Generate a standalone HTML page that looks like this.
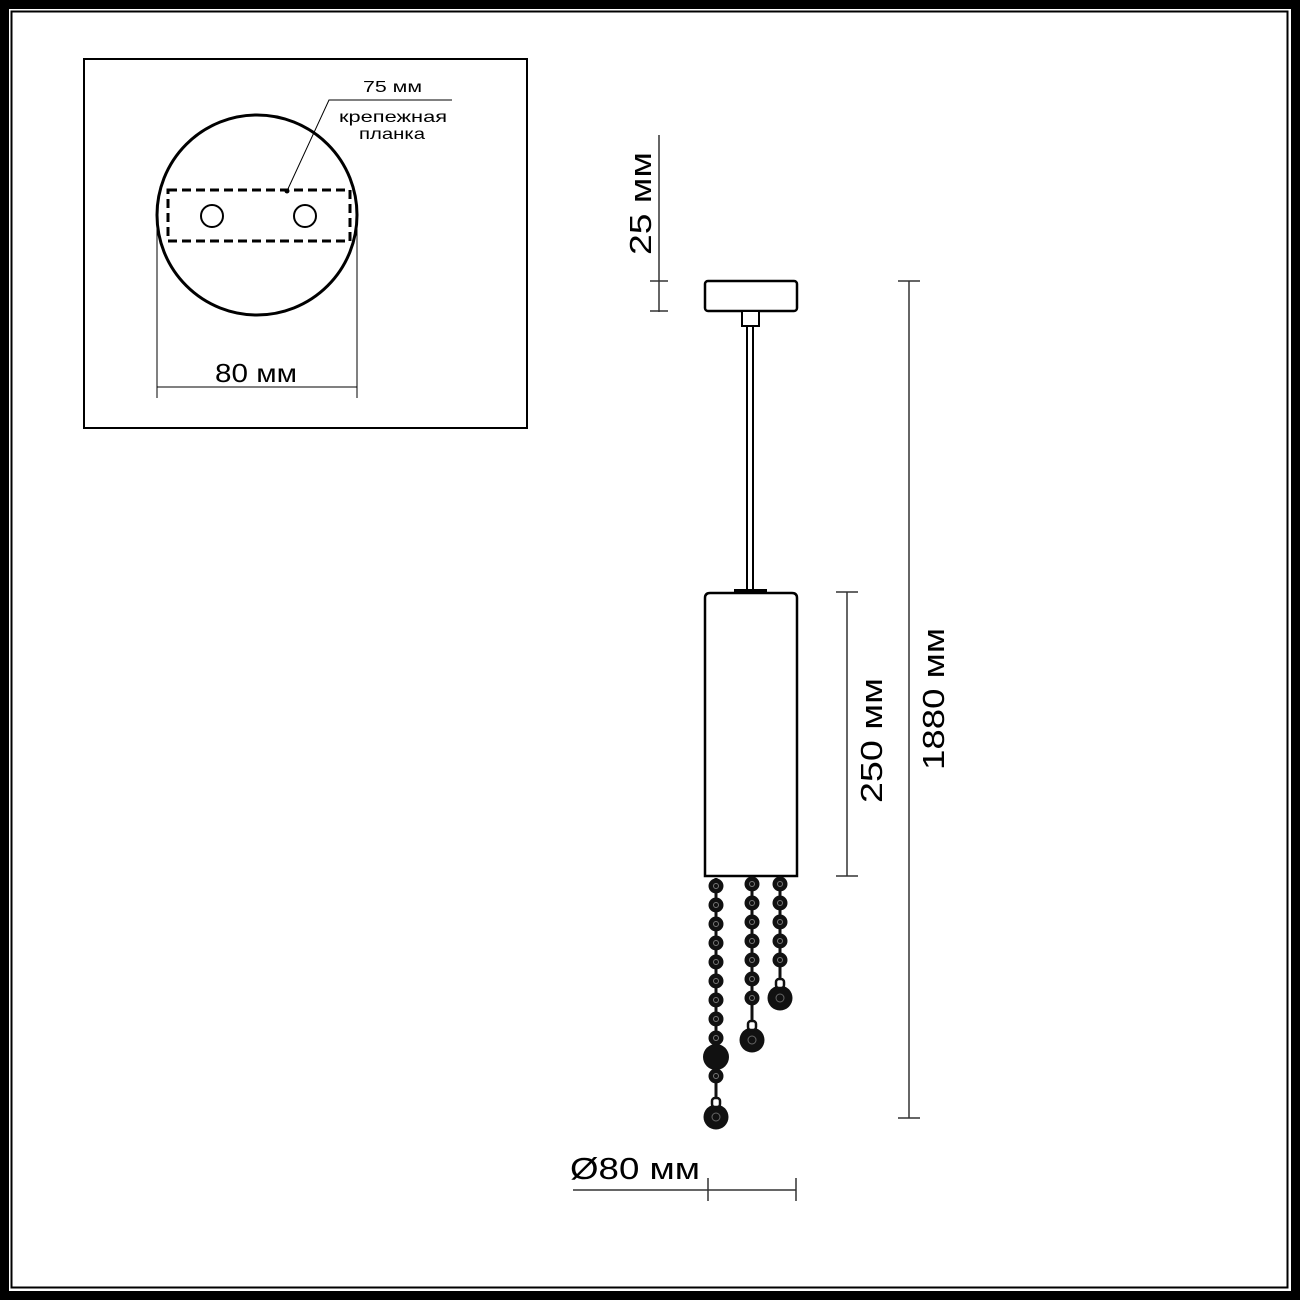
<!DOCTYPE html>
<html><head><meta charset="utf-8"><style>
html,body{margin:0;padding:0;background:#000;}
svg{display:block}
text{font-family:"Liberation Sans",sans-serif;fill:#000}
</style></head><body>
<svg width="1300" height="1300" viewBox="0 0 1300 1300" xmlns="http://www.w3.org/2000/svg">
<defs>
<g id="bead"><circle r="7.5" fill="#111"/><circle r="2.5" fill="none" stroke="#777" stroke-width="1"/></g>
<g id="pend"><circle r="12.5" fill="#111"/><circle r="4" fill="none" stroke="#666" stroke-width="1"/><rect x="-4" y="-19" width="8" height="9" rx="3" fill="#fff" stroke="#111" stroke-width="2.5"/></g>
</defs>
<rect x="0" y="0" width="1300" height="1300" fill="#000"/>
<rect x="9" y="9" width="1282" height="1282" fill="#fff"/>
<rect x="11.5" y="11.5" width="1276" height="1276" fill="none" stroke="#000" stroke-width="2"/>

<!-- inset box -->
<rect x="84" y="59" width="443" height="369" fill="#fff" stroke="#000" stroke-width="2"/>
<circle cx="257" cy="215" r="100" fill="none" stroke="#000" stroke-width="3"/>
<rect x="168" y="190" width="182" height="51" fill="none" stroke="#000" stroke-width="3" stroke-dasharray="9,5"/>
<circle cx="212" cy="216" r="11" fill="none" stroke="#000" stroke-width="2"/>
<circle cx="305" cy="216" r="11" fill="none" stroke="#000" stroke-width="2"/>
<circle cx="287" cy="191" r="2.5" fill="#000"/>
<polyline points="287,191 329,100 452,100" fill="none" stroke="#000" stroke-width="1"/>
<text x="363" y="92" font-size="16" textLength="59" lengthAdjust="spacingAndGlyphs">75 мм</text>
<text x="339" y="122" font-size="16" textLength="108" lengthAdjust="spacingAndGlyphs">крепежная</text>
<text x="359" y="139" font-size="16" textLength="66" lengthAdjust="spacingAndGlyphs">планка</text>
<line x1="157" y1="215" x2="157" y2="398" stroke="#000" stroke-width="1"/>
<line x1="357" y1="215" x2="357" y2="398" stroke="#000" stroke-width="1"/>
<line x1="157" y1="387" x2="357" y2="387" stroke="#000" stroke-width="1"/>
<text x="215" y="382" font-size="26" textLength="82" lengthAdjust="spacingAndGlyphs">80 мм</text>

<!-- lamp -->
<rect x="705" y="281" width="92" height="30" rx="3" fill="#fff" stroke="#000" stroke-width="2.5"/>
<rect x="742" y="311" width="17" height="15" fill="#fff" stroke="#000" stroke-width="2"/>
<rect x="747" y="326" width="6" height="266" fill="#fff" stroke="#000" stroke-width="2"/>
<rect x="734" y="589" width="33" height="4" fill="#000"/>
<path d="M705,876 V598 Q705,593 710,593 H792 Q797,593 797,598 V876 Z" fill="#fff" stroke="#000" stroke-width="2.5"/>

<!-- chains -->
<g>
<line x1="716" y1="878" x2="716" y2="1100" stroke="#111" stroke-width="3"/>
<use href="#bead" x="716" y="886"/><use href="#bead" x="716" y="905"/><use href="#bead" x="716" y="924"/><use href="#bead" x="716" y="943"/><use href="#bead" x="716" y="962"/><use href="#bead" x="716" y="981"/><use href="#bead" x="716" y="1000"/><use href="#bead" x="716" y="1019"/><use href="#bead" x="716" y="1038"/>
<circle cx="716" cy="1057" r="13" fill="#111"/>
<use href="#bead" x="716" y="1076"/>
<use href="#pend" x="716" y="1117"/>

<line x1="752" y1="878" x2="752" y2="1025" stroke="#111" stroke-width="3"/>
<use href="#bead" x="752" y="884"/><use href="#bead" x="752" y="903"/><use href="#bead" x="752" y="922"/><use href="#bead" x="752" y="941"/><use href="#bead" x="752" y="960"/><use href="#bead" x="752" y="979"/><use href="#bead" x="752" y="998"/>
<use href="#pend" x="752" y="1040"/>

<line x1="780" y1="878" x2="780" y2="985" stroke="#111" stroke-width="3"/>
<use href="#bead" x="780" y="884"/><use href="#bead" x="780" y="903"/><use href="#bead" x="780" y="922"/><use href="#bead" x="780" y="941"/><use href="#bead" x="780" y="960"/>
<use href="#pend" x="780" y="998"/>
</g>

<!-- dimensions -->
<g stroke="#333" stroke-width="1.5">
<line x1="659" y1="135" x2="659" y2="312"/>
<line x1="650" y1="281" x2="668" y2="281"/>
<line x1="650" y1="311" x2="668" y2="311"/>
<line x1="909" y1="281" x2="909" y2="1118"/>
<line x1="898" y1="281" x2="920" y2="281"/>
<line x1="898" y1="1118" x2="920" y2="1118"/>
<line x1="847" y1="592" x2="847" y2="876"/>
<line x1="836" y1="592" x2="858" y2="592"/>
<line x1="836" y1="876" x2="858" y2="876"/>
<line x1="573" y1="1190" x2="796" y2="1190"/>
<line x1="708" y1="1178" x2="708" y2="1201"/>
<line x1="796" y1="1178" x2="796" y2="1201"/>
</g>
<text transform="translate(651,255) rotate(-90)" font-size="31" textLength="103" lengthAdjust="spacingAndGlyphs">25 мм</text>
<text transform="translate(882,803) rotate(-90)" font-size="31" textLength="125" lengthAdjust="spacingAndGlyphs">250 мм</text>
<text transform="translate(944,770) rotate(-90)" font-size="31" textLength="142" lengthAdjust="spacingAndGlyphs">1880 мм</text>
<text x="570" y="1179" font-size="31" textLength="130" lengthAdjust="spacingAndGlyphs">Ø80 мм</text>
</svg>
</body></html>
